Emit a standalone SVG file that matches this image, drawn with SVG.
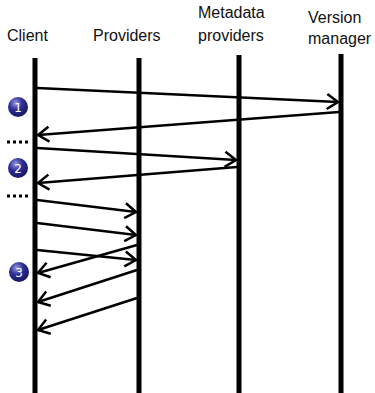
<svg xmlns="http://www.w3.org/2000/svg" width="375" height="393" viewBox="0 0 375 393">
  <style>
    .lbl { font-family: "Liberation Sans", Arial, sans-serif; font-size: 16px; fill: #111; }
    .life { stroke: #000; stroke-width: 5; }
    .msg { stroke: #000; stroke-width: 2.5; fill: none; marker-end: url(#arr); }
    .dots { stroke: #000; stroke-width: 3; stroke-dasharray: 3 3; }
    .num { font-family: "DejaVu Sans", sans-serif; font-size: 12px; fill: #fff; text-anchor: middle; }
  </style>
  <defs>
    <marker id="arr" viewBox="0 0 14 18" refX="12.5" refY="9" markerWidth="14" markerHeight="18" markerUnits="userSpaceOnUse" orient="auto">
      <path d="M1.5,1.5 L12.5,9 L1.5,16.5" fill="none" stroke="#000" stroke-width="2.5" stroke-linejoin="miter"/>
    </marker>
    <radialGradient id="ball" cx="0.38" cy="0.3" r="0.75">
      <stop offset="0" stop-color="#9a9ae0"/>
      <stop offset="0.45" stop-color="#2e2e96"/>
      <stop offset="1" stop-color="#14145c"/>
    </radialGradient>
  </defs>

  <g id="client">
    <text class="lbl" x="7" y="41">Client</text>
    <line class="life" x1="35" y1="58" x2="35" y2="393"/>
  </g>
  <g id="providers">
    <text class="lbl" x="93" y="41">Providers</text>
    <line class="life" x1="139" y1="58" x2="139" y2="393"/>
  </g>
  <g id="metadata-providers">
    <text class="lbl" x="198" y="18">Metadata</text>
    <text class="lbl" x="198" y="41">providers</text>
    <line class="life" x1="239" y1="55" x2="239" y2="393"/>
  </g>
  <g id="version-manager">
    <text class="lbl" x="308" y="23">Version</text>
    <text class="lbl" x="308" y="44">manager</text>
    <line class="life" x1="341" y1="54" x2="341" y2="393"/>
  </g>

  <g id="connectors">
    <line class="msg" x1="37" y1="88" x2="338" y2="102"/>
    <line class="msg" x1="339" y1="112" x2="38" y2="135"/>
    <line class="msg" x1="37" y1="148" x2="236" y2="160"/>
    <line class="msg" x1="237" y1="167" x2="38" y2="183"/>
    <line class="msg" x1="37" y1="200" x2="136" y2="212"/>
    <line class="msg" x1="37" y1="223" x2="136" y2="235"/>
    <line class="msg" x1="37" y1="250" x2="136" y2="260"/>
    <line class="msg" x1="137" y1="245" x2="38" y2="273"/>
    <line class="msg" x1="137" y1="270" x2="38" y2="302"/>
    <line class="msg" x1="137" y1="298" x2="38" y2="330"/>
  </g>

  <g id="markers">
    <line class="dots" x1="7" y1="142" x2="31" y2="142"/>
    <line class="dots" x1="7" y1="196" x2="31" y2="196"/>
  </g>

  <g id="step1">
    <circle cx="18" cy="107" r="10" fill="url(#ball)"/>
    <text class="num" x="18" y="111.5">1</text>
  </g>
  <g id="step2">
    <circle cx="18" cy="168" r="10" fill="url(#ball)"/>
    <text class="num" x="18" y="172.5">2</text>
  </g>
  <g id="step3">
    <circle cx="19" cy="272" r="10" fill="url(#ball)"/>
    <text class="num" x="19" y="276.5">3</text>
  </g>
</svg>
